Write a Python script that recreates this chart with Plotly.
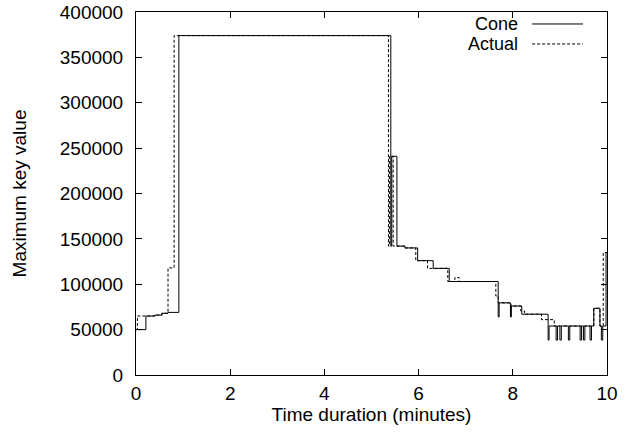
import plotly.graph_objects as go

# ---- data (minutes, maximum key value) ----
cone_t = [0.0, 0.21, 0.40, 0.55, 0.68, 0.91, 5.41, 5.43, 5.54, 5.71, 5.98, 6.31, 6.65,
          7.69, 7.71, 7.95, 7.97, 8.19, 8.75, 8.77, 8.92, 8.95, 9.00, 9.03, 9.18, 9.21,
          9.43, 9.46, 9.50, 9.53, 9.64, 9.67, 9.72, 9.85, 9.88, 9.91, 9.98, 10.0]
cone_v = [50000, 65000, 66000, 68000, 69000, 374000, 142000, 241000, 142000, 140000, 126000, 117500, 103000,
          64000, 79500, 64000, 76000, 67000, 38500, 54000, 38500, 54000, 38500, 54000, 38500, 54000,
          38500, 54000, 38500, 54000, 38500, 54000, 73500, 54000, 38500, 54000, 135000, 135000]

actual_t = [0.0, 0.03, 0.40, 0.55, 0.68, 0.81, 5.36, 5.38, 5.46, 5.71, 5.94, 6.19, 6.62, 6.77, 6.86,
            7.64, 7.69, 7.96, 8.17, 8.25, 8.61, 8.88, 9.72, 9.85, 9.92, 10.0]
actual_v = [50000, 65000, 66000, 68000, 118000, 374000, 142000, 241000, 142000, 140000, 126000, 117500,
            103000, 107500, 103000, 87000, 79500, 76000, 70500, 67000, 61000, 54000, 73500, 54000, 135000, 135000]

x_ticks = [0, 2, 4, 6, 8, 10]
y_ticks = [0, 50000, 100000, 150000, 200000, 250000, 300000, 350000, 400000]
legend_names = ["Cone", "Actual"]

FONT = "Liberation Sans, Arial, Helvetica, sans-serif"
FS = 19

fig = go.Figure()
fig.add_trace(go.Scatter(x=cone_t, y=cone_v, mode="lines", line_shape="hv",
                         line=dict(color="black", width=1), name=legend_names[0]))
fig.add_trace(go.Scatter(x=actual_t, y=actual_v, mode="lines", line_shape="hv",
                         line=dict(color="black", width=1, dash="3px,2px"), name=legend_names[1]))

axis_common = dict(showline=True, linecolor="black", linewidth=1, mirror="ticks",
                   ticks="inside", ticklen=6, tickcolor="black", showgrid=False, zeroline=False,
                   automargin=False,
                   tickfont=dict(family=FONT, size=FS, color="black"))

fig.update_xaxes(range=[0, 10], tickvals=x_ticks, ticktext=[str(v) for v in x_ticks],
                 title=dict(text="Time duration (minutes)", font=dict(family=FONT, size=FS, color="black"), standoff=3),
                 ticklabelstandoff=1, **axis_common)
fig.update_yaxes(range=[0, 400000], tickvals=y_ticks, ticktext=[str(v) for v in y_ticks],
                 title=dict(text="Maximum key value", font=dict(family=FONT, size=FS, color="black"), standoff=28),
                 ticklabelstandoff=8, **axis_common)

# gnuplot-style key: text left, sample line right
key_y = [0.967, 0.912]
for name, dash, yk in zip(legend_names, ["solid", "3px,2px"], key_y):
    fig.add_annotation(x=0.813, y=yk, xref="paper", yref="paper", text=name, showarrow=False,
                       xanchor="right", yanchor="middle", borderpad=0,
                       font=dict(family=FONT, size=18, color="black"))
    fig.add_shape(type="line", xref="paper", yref="paper", x0=0.841, x1=0.949, y0=yk, y1=yk,
                  line=dict(color="black", width=1, dash=dash))

fig.update_layout(width=633, height=438, margin=dict(l=136, r=26, t=12, b=63),
                  paper_bgcolor="white", plot_bgcolor="white", showlegend=False,
                  font=dict(family=FONT, size=FS, color="black"))

fig.write_html("out.html")
